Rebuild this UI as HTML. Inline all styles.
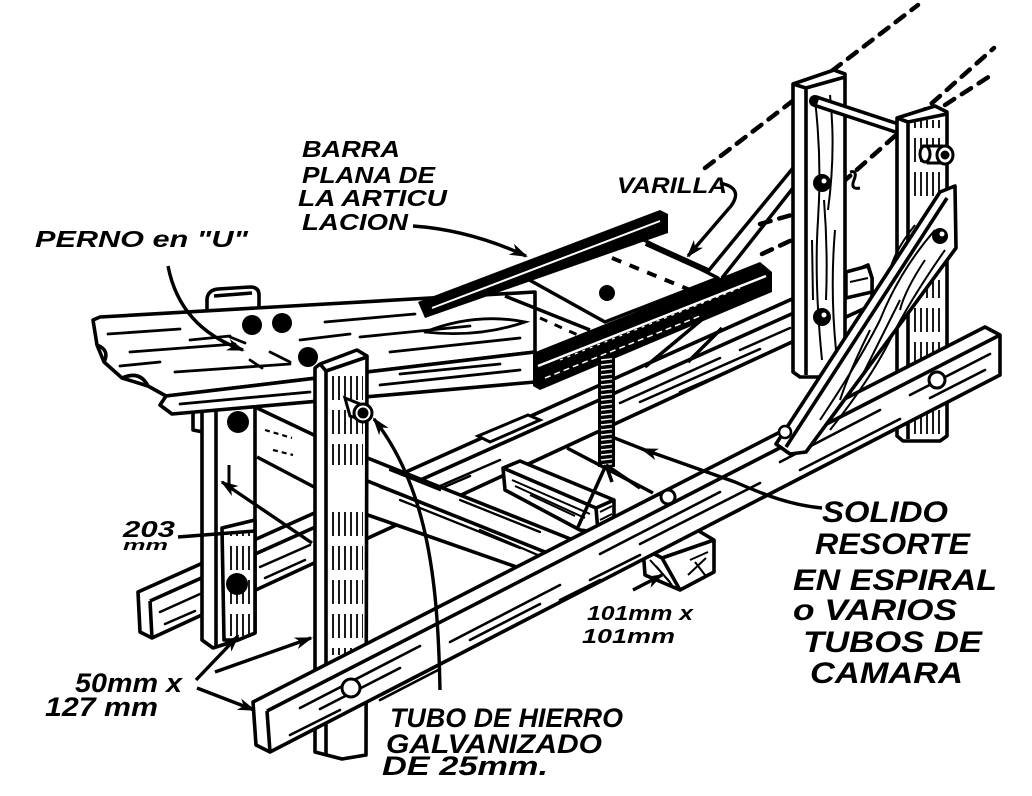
<!DOCTYPE html>
<html><head><meta charset="utf-8">
<style>
html,body{margin:0;padding:0;background:#fff;}
svg{display:block;}
text{font-family:"Liberation Sans",sans-serif;font-weight:bold;font-style:italic;fill:#000;}
</style></head><body>
<svg width="1032" height="796" viewBox="0 0 1032 796" xmlns="http://www.w3.org/2000/svg">
<defs>
<marker id="a" markerUnits="userSpaceOnUse" markerWidth="18" markerHeight="12" refX="16" refY="6" orient="auto"><path d="M0,0 L18,6 L0,12 L5,6 z" fill="#000"/></marker>
<marker id="b" markerUnits="userSpaceOnUse" markerWidth="18" markerHeight="12" refX="2" refY="6" orient="auto"><path d="M18,0 L0,6 L18,12 L13,6 z" fill="#000"/></marker>
<pattern id="vh" width="6" height="34" patternUnits="userSpaceOnUse"><line x1="3" y1="2" x2="3" y2="26" stroke="#000" stroke-width="1.8"/></pattern>
<pattern id="coil" x="598" y="357" width="17" height="5" patternUnits="userSpaceOnUse"><rect width="17" height="5" fill="#000"/><line x1="3" y1="3" x2="14" y2="1.8" stroke="#fff" stroke-width="1.4"/></pattern>
</defs>
<rect width="1032" height="796" fill="#fff"/>

<!-- sky dashed lines -->
<g stroke="#000" stroke-width="4.5" stroke-dasharray="11 9" fill="none" stroke-linecap="round">
<line x1="705" y1="168" x2="918" y2="5"/>
<line x1="842" y1="183" x2="994" y2="48"/>
<line x1="945" y1="105" x2="990" y2="76"/>
<line x1="760" y1="224" x2="795" y2="214"/>
<line x1="762" y1="254" x2="792" y2="240"/>
</g>

<!-- back rail -->
<g stroke="#000" stroke-width="3.6" stroke-linejoin="round" fill="#fff">
<polygon points="138,592 868,265 872,278 872,305 152,638 140,632"/>
<line x1="150" y1="601" x2="872" y2="278"/>
<line x1="150" y1="601" x2="152" y2="638"/>
</g>
<g stroke="#000" stroke-width="2.5" fill="none" stroke-linecap="round">
<line x1="160" y1="612" x2="200" y2="594"/>
<line x1="165" y1="624" x2="195" y2="611"/>
<line x1="260" y1="567" x2="310" y2="545"/>
<line x1="265" y1="578" x2="305" y2="560"/>
<line x1="380" y1="512" x2="500" y2="460"/>
<line x1="400" y1="506" x2="470" y2="476"/>
<line x1="620" y1="403" x2="720" y2="358"/>
<line x1="640" y1="402" x2="760" y2="349"/>
<line x1="680" y1="392" x2="740" y2="366"/>
<line x1="740" y1="350" x2="790" y2="328"/>
</g>
<!-- small block on back rail -->
<polygon points="478,436 528,415 540,420 490,442" fill="#fff" stroke="#000" stroke-width="3"/>

<!-- side braces behind (right) -->
<g stroke="#000" stroke-width="3.5" fill="none">
<line x1="793" y1="168" x2="705" y2="275"/>
<line x1="793" y1="188" x2="722" y2="278"/>
<line x1="735" y1="292" x2="645" y2="367"/>
<line x1="722" y1="328" x2="688" y2="362"/>
</g>

<!-- back-right post -->
<g stroke="#000" stroke-width="3.6" stroke-linejoin="round">
<polygon points="793,84 834,70 845,74 845,372 838,377 800,377 793,372" fill="#fff"/>
<polyline points="806,375 806,88 845,77" fill="none"/>
<line x1="793" y1="84" x2="806" y2="88"/>
</g>
<g stroke="#000" stroke-width="2" fill="none">
<path d="M815,100 Q822,160 818,220 Q814,280 822,360"/>
<path d="M830,95 Q836,150 828,210"/>
<path d="M835,230 Q830,290 836,350"/>
<line x1="812" y1="240" x2="813" y2="300"/>
<path d="M824,200 Q828,250 826,300"/>
</g>
<circle cx="822" cy="183" r="9" fill="#000"/><circle cx="824" cy="181" r="2.5" fill="#fff"/>
<circle cx="822" cy="317" r="9" fill="#000"/><circle cx="824" cy="315" r="2.5" fill="#fff"/>
<path d="M850,172 Q858,170 854,180 Q850,190 860,188" stroke="#000" stroke-width="3" fill="none"/>

<!-- rod between posts -->
<line x1="815" y1="101" x2="900" y2="129" stroke="#000" stroke-width="12" stroke-linecap="round"/>
<line x1="818" y1="102" x2="900" y2="129" stroke="#fff" stroke-width="5"/>

<!-- back rail end block -->
<polygon points="846,272 868,266 872,278 872,292 846,298" fill="#fff" stroke="#000" stroke-width="3.5"/>
<line x1="850" y1="282" x2="868" y2="278" stroke="#000" stroke-width="2"/>

<!-- front-right post -->
<g stroke="#000" stroke-width="3.6" stroke-linejoin="round">
<polygon points="897,118 935,106 947,112 947,436 940,441 903,441 897,436" fill="#fff"/>
<polyline points="908,439 908,122 947,114" fill="none"/>
<line x1="897" y1="118" x2="908" y2="122"/>
</g>
<rect x="912" y="120" width="32" height="80" fill="url(#vh)"/>
<rect x="912" y="280" width="32" height="157" fill="url(#vh)"/>
<!-- pin -->
<g stroke="#000" stroke-width="3">
<path d="M924,146 L942,146 L946,163 L928,163 Z" fill="#fff"/>
<ellipse cx="925" cy="154" rx="5" ry="8" fill="#fff"/>
<ellipse cx="945" cy="155" rx="8" ry="9" fill="#fff"/>
<circle cx="945" cy="155" r="3" fill="#000"/>
</g>

<!-- back-left post -->
<g stroke="#000" stroke-width="3.6" stroke-linejoin="round" fill="#fff">
<path d="M207,312 L207,299 Q208,290 218,289 L250,287 Q259,287 259,295 L259,310 Z"/>
<line x1="214" y1="296" x2="252" y2="293"/>
<polygon points="193,408 203,408 203,432 193,430"/>
<polygon points="202,404 255,404 255,633 238,640 213,648 202,640"/>
<line x1="216" y1="406" x2="216" y2="646"/>
<polygon points="222,528 255,520 255,633 238,640 224,640"/>
</g>
<rect x="226" y="532" width="27" height="104" fill="url(#vh)"/>
<circle cx="238" cy="422" r="11" fill="#000"/>
<circle cx="237" cy="584" r="11" fill="#000"/>
<line x1="229" y1="465" x2="229" y2="490" stroke="#000" stroke-width="3"/>

<!-- rails between left posts -->
<g stroke="#000" stroke-width="3.5">
<line x1="257" y1="408" x2="316" y2="436"/>
<line x1="257" y1="457" x2="316" y2="488"/>
</g>
<g stroke="#000" stroke-width="2.2" stroke-dasharray="5 4">
<line x1="265" y1="430" x2="292" y2="438"/>
<line x1="273" y1="450" x2="293" y2="455"/>
</g>

<!-- cross block under spring -->
<g stroke="#000" stroke-width="3.6" stroke-linejoin="round" fill="#fff">
<polygon points="503,468 520,461 614,500 614,524 598,532 580,530 505,490"/>
<line x1="503" y1="468" x2="596" y2="508"/>
<line x1="596" y1="508" x2="598" y2="532"/>
<line x1="596" y1="508" x2="614" y2="500"/>
</g>
<g stroke="#000" stroke-width="2">
<line x1="512" y1="480" x2="590" y2="514"/>
<line x1="515" y1="486" x2="585" y2="518"/>
<line x1="530" y1="495" x2="575" y2="516"/>
<line x1="600" y1="512" x2="612" y2="506"/>
<line x1="600" y1="520" x2="612" y2="514"/>
</g>

<!-- seat board -->
<g stroke="#000" stroke-width="3.6" stroke-linejoin="round" fill="#fff">
<polygon points="93,320 100,317 430,298 535,292 535,352 166,396 148,386 122,378 104,362 97,345"/>
<polygon points="166,396 535,352 535,382 172,414 160,405"/>
<path d="M97,345 Q110,350 104,362 M122,378 Q140,370 148,386" fill="none"/>
</g>
<g stroke="#000" stroke-width="2.8" fill="none" stroke-linecap="round">
<line x1="108" y1="334" x2="180" y2="329"/>
<line x1="130" y1="352" x2="235" y2="344"/>
<line x1="175" y1="372" x2="290" y2="364"/>
<line x1="120" y1="366" x2="160" y2="362"/>
<line x1="190" y1="340" x2="230" y2="336"/>
<line x1="325" y1="322" x2="415" y2="314"/>
<line x1="360" y1="337" x2="470" y2="326"/>
<line x1="390" y1="352" x2="520" y2="338"/>
<line x1="300" y1="340" x2="350" y2="334"/>
<path d="M425,332 Q475,312 525,322 Q478,338 425,332"/>
<line x1="180" y1="404" x2="310" y2="392"/>
<line x1="380" y1="385" x2="520" y2="370"/>
<line x1="400" y1="374" x2="500" y2="364"/>
<line x1="230" y1="337" x2="245" y2="343"/>
<line x1="270" y1="352" x2="290" y2="362"/>
<line x1="250" y1="360" x2="262" y2="368"/>
</g>
<circle cx="252" cy="325" r="10" fill="#000"/>
<circle cx="282" cy="323" r="10" fill="#000"/>
<circle cx="308" cy="357" r="10" fill="#000"/>

<!-- plate -->
<g stroke="#000" stroke-width="3.5" stroke-linejoin="round" fill="#fff">
<polygon points="515,272 640,238 718,278 605,322"/>
<line x1="505" y1="296" x2="590" y2="330"/>
</g>
<line x1="612" y1="258" x2="695" y2="292" stroke="#000" stroke-width="4" stroke-dasharray="10 9"/>
<line x1="540" y1="318" x2="600" y2="345" stroke="#000" stroke-width="3" stroke-dasharray="8 8"/>
<circle cx="607" cy="293" r="8" fill="#000"/>
<line x1="646" y1="243" x2="708" y2="271" stroke="#000" stroke-width="6"/>

<!-- flat bar -->
<polygon points="418,302 660,210 668,214 668,233 425,318" fill="#000"/>
<line x1="432" y1="308" x2="660" y2="221" stroke="#fff" stroke-width="2"/>

<!-- front bar -->
<polygon points="533,353 760,262 772,272 772,292 540,390 533,386" fill="#000"/>
<line x1="538" y1="366" x2="766" y2="276" stroke="#fff" stroke-width="2.5"/>
<line x1="545" y1="378" x2="700" y2="316" stroke="#fff" stroke-width="1.5" stroke-dasharray="6 4"/>
<line x1="560" y1="360" x2="740" y2="288" stroke="#fff" stroke-width="1.2" stroke-dasharray="3 5"/>

<!-- spring -->
<rect x="598" y="357" width="17" height="110" fill="url(#coil)"/>
<g stroke="#000" stroke-width="3.5">
<line x1="606" y1="465" x2="578" y2="527"/>
<line x1="606" y1="465" x2="640" y2="488"/>
<line x1="606" y1="465" x2="612" y2="482"/>
<line x1="567" y1="448" x2="653" y2="493"/>
</g>

<!-- diagonal beam from front-left post -->
<g stroke="#000" stroke-width="3.6" stroke-linejoin="round" fill="#fff">
<polygon points="338,460 365,457 598,550 570,562 548,578 345,507"/>
<line x1="365" y1="480" x2="570" y2="562"/>
</g>
<g stroke="#000" stroke-width="2.3" fill="none" stroke-linecap="round">
<line x1="380" y1="487" x2="470" y2="522"/>
<line x1="400" y1="500" x2="520" y2="548"/>
<line x1="460" y1="500" x2="540" y2="532"/>
<line x1="390" y1="470" x2="440" y2="490"/>
<line x1="480" y1="530" x2="540" y2="556"/>
</g>
<circle cx="353" cy="487" r="10" fill="#000"/><circle cx="353" cy="487" r="4" fill="#fff"/>

<!-- front-left post -->
<g stroke="#000" stroke-width="3.6" stroke-linejoin="round" fill="#fff">
<polygon points="320,364 357,350 367,356 366,755 342,759 315,752 315,368"/>
<polyline points="326,754 326,371 367,357" fill="none"/>
<line x1="320" y1="364" x2="326" y2="371"/>
</g>
<rect x="330" y="375" width="33" height="90" fill="url(#vh)"/>
<rect x="330" y="505" width="33" height="150" fill="url(#vh)"/>
<!-- pipe on front-left post -->
<g stroke="#000" stroke-width="3">
<path d="M345,398 L360,404 L366,421 L350,416 Z" fill="#fff"/>
<circle cx="363" cy="413" r="9" fill="#fff"/>
<circle cx="363" cy="413" r="4" fill="#000"/>
</g>

<!-- block 101 -->
<g stroke="#000" stroke-width="3.6" stroke-linejoin="round" fill="#fff">
<polygon points="643,548 697,530 714,540 714,572 680,590 645,575"/>
<polyline points="643,548 662,558 714,540" fill="none"/>
<line x1="662" y1="558" x2="680" y2="590"/>
</g>
<g stroke="#000" stroke-width="2">
<line x1="650" y1="560" x2="670" y2="582"/>
<line x1="656" y1="566" x2="672" y2="585"/>
<line x1="690" y1="560" x2="708" y2="552"/>
<line x1="688" y1="575" x2="706" y2="558"/>
<line x1="695" y1="562" x2="705" y2="575"/>
</g>

<!-- front rail -->
<g stroke="#000" stroke-width="3.6" stroke-linejoin="round" fill="#fff">
<polygon points="253,702 985,327 1000,335 1000,375 270,752 256,745"/>
<line x1="267" y1="711" x2="1000" y2="335"/>
<line x1="267" y1="711" x2="270" y2="752"/>
</g>
<g stroke="#000" stroke-width="2.6" fill="none" stroke-linecap="round">
<line x1="300" y1="708" x2="420" y2="646"/>
<line x1="320" y1="709" x2="400" y2="668"/>
<line x1="290" y1="735" x2="340" y2="710"/>
<line x1="380" y1="700" x2="440" y2="669"/>
<line x1="450" y1="642" x2="560" y2="585"/>
<line x1="470" y1="640" x2="540" y2="604"/>
<line x1="600" y1="554" x2="720" y2="492"/>
<line x1="640" y1="544" x2="760" y2="483"/>
<line x1="780" y1="462" x2="880" y2="410"/>
<line x1="800" y1="470" x2="900" y2="419"/>
<line x1="910" y1="395" x2="990" y2="354"/>
<line x1="930" y1="398" x2="985" y2="370"/>
<line x1="560" y1="600" x2="600" y2="580"/>
<line x1="700" y1="530" x2="740" y2="510"/>
<line x1="590" y1="580" x2="640" y2="555"/>
</g>
<circle cx="351" cy="688" r="9" fill="#fff" stroke="#000" stroke-width="3"/>
<circle cx="668" cy="497" r="7" fill="#fff" stroke="#000" stroke-width="3"/>
<circle cx="937" cy="380" r="8" fill="#fff" stroke="#000" stroke-width="3"/>

<!-- right diagonal brace -->
<g stroke="#000" stroke-width="3.6" stroke-linejoin="round" fill="#fff">
<polygon points="940,192 955,186 956,248 806,452 790,454 776,444"/>
<line x1="947" y1="198" x2="786" y2="447"/>
</g>
<g stroke="#000" stroke-width="2" fill="none">
<path d="M935,230 Q900,270 880,320 Q860,360 820,420"/>
<path d="M945,250 Q910,300 890,340 Q870,380 830,430"/>
<path d="M925,260 Q905,290 900,310"/>
<path d="M870,330 Q850,370 840,400"/>
<path d="M915,225 Q895,250 890,270"/>
<path d="M900,300 Q880,340 860,380"/>
</g>
<circle cx="940" cy="236" r="8" fill="#000"/><circle cx="942" cy="234" r="2.5" fill="#fff"/>
<circle cx="785" cy="432" r="6" fill="#fff" stroke="#000" stroke-width="2.5"/>

<!-- leaders / arrows -->
<g stroke="#000" stroke-width="3.4" fill="none">
<path d="M168,266 Q180,328 243,350" marker-end="url(#a)"/>
<path d="M413,226 Q470,230 526,256" marker-end="url(#a)"/>
<path d="M720,183 Q744,188 731,206 L688,256" marker-end="url(#a)"/>
<path d="M440,690 C438,590 430,490 374,419" marker-end="url(#a)"/>
<line x1="178" y1="537" x2="255" y2="531"/>
<line x1="222" y1="482" x2="312" y2="543" marker-start="url(#b)"/>
<line x1="196" y1="680" x2="238" y2="636" marker-end="url(#a)"/>
<line x1="215" y1="672" x2="311" y2="638" marker-end="url(#a)"/>
<line x1="197" y1="688" x2="254" y2="710" marker-end="url(#a)"/>
<line x1="633" y1="590" x2="662" y2="575" marker-end="url(#a)"/>
<path d="M822,508 C790,505 765,495 735,482 L642,449" marker-end="url(#a)"/>
<line x1="645" y1="450" x2="612" y2="437"/>
</g>

<!-- labels -->
<text x="302" y="157" font-size="23" textLength="98" lengthAdjust="spacingAndGlyphs">BARRA</text>
<text x="302" y="183" font-size="23" textLength="133" lengthAdjust="spacingAndGlyphs">PLANA DE</text>
<text x="298" y="206" font-size="23" textLength="149" lengthAdjust="spacingAndGlyphs">LA ARTICU</text>
<text x="302" y="230" font-size="23" textLength="106" lengthAdjust="spacingAndGlyphs">LACION</text>
<text x="35" y="247" font-size="23" textLength="213" lengthAdjust="spacingAndGlyphs">PERNO en "U"</text>
<text x="617" y="193" font-size="22" textLength="110" lengthAdjust="spacingAndGlyphs">VARILLA</text>
<text x="123" y="537" font-size="23" textLength="52" lengthAdjust="spacingAndGlyphs">203</text>
<text x="123" y="550" font-size="15" textLength="45" lengthAdjust="spacingAndGlyphs">mm</text>
<text x="75" y="692" font-size="27" textLength="107" lengthAdjust="spacingAndGlyphs">50mm x</text>
<text x="45" y="716" font-size="27" textLength="113" lengthAdjust="spacingAndGlyphs">127 mm</text>
<text x="390" y="727" font-size="27" textLength="233" lengthAdjust="spacingAndGlyphs">TUBO DE HIERRO</text>
<text x="386" y="753" font-size="27" textLength="216" lengthAdjust="spacingAndGlyphs">GALVANIZADO</text>
<text x="382" y="775" font-size="27" textLength="166" lengthAdjust="spacingAndGlyphs">DE 25mm.</text>
<text x="587" y="620" font-size="20" textLength="106" lengthAdjust="spacingAndGlyphs">101mm x</text>
<text x="582" y="643" font-size="20" textLength="93" lengthAdjust="spacingAndGlyphs">101mm</text>
<text x="822" y="522" font-size="30" textLength="126" lengthAdjust="spacingAndGlyphs">SOLIDO</text>
<text x="815" y="554" font-size="30" textLength="155" lengthAdjust="spacingAndGlyphs">RESORTE</text>
<text x="793" y="590" font-size="30" textLength="204" lengthAdjust="spacingAndGlyphs">EN ESPIRAL</text>
<text x="793" y="620" font-size="30" textLength="164" lengthAdjust="spacingAndGlyphs">o VARIOS</text>
<text x="803" y="652" font-size="30" textLength="179" lengthAdjust="spacingAndGlyphs">TUBOS DE</text>
<text x="810" y="683" font-size="30" textLength="153" lengthAdjust="spacingAndGlyphs">CAMARA</text>
</svg>
</body></html>
